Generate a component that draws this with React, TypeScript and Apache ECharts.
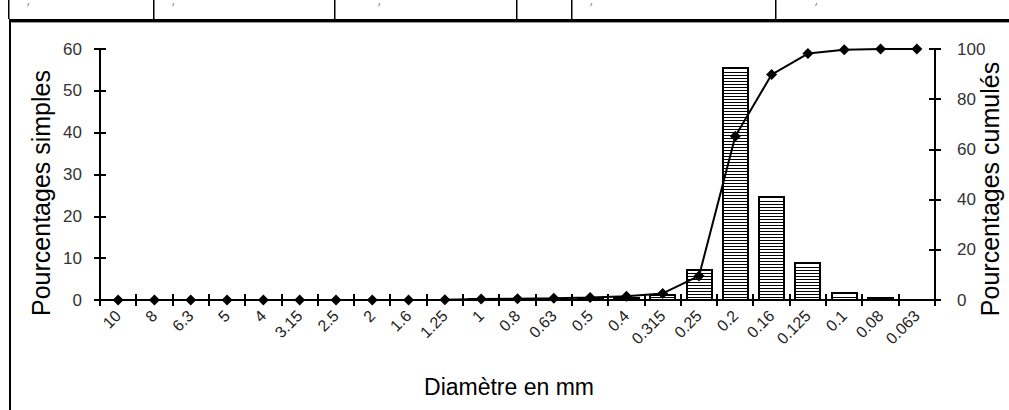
import React, { useEffect, useRef } from "react";
import * as echarts from "echarts";

const diameters = ["10", "8", "6.3", "5", "4", "3.15", "2.5", "2", "1.6", "1.25", "1", "0.8", "0.63", "0.5", "0.4", "0.315", "0.25", "0.2", "0.16", "0.125", "0.1", "0.08", "0.063"];
const simples = [0, 0, 0, 0, 0, 0, 0, 0, 0.05, 0.1, 0.2, 0.1, 0.2, 0.3, 0.5, 1.1, 7.2, 55.5, 24.7, 8.8, 1.6, 0.4, 0.1];
const cumules = [0, 0, 0, 0, 0, 0, 0, 0, 0, 0.1, 0.4, 0.5, 0.7, 1.0, 1.5, 2.6, 9.6, 65.2, 89.8, 98.2, 99.7, 100, 100];
const leftTicks = { min: 0, max: 60, interval: 10 };
const rightTicks = { min: 0, max: 100, interval: 20 };
const tableCols = [8, 153, 334, 516, 571, 775];
const commaX = [29, 174, 380, 592, 817];

const FONT = "'Liberation Sans', Arial, sans-serif";

export default function App() {
  const ref = useRef<HTMLDivElement>(null);
  useEffect(() => {
    if (!ref.current) return;
    const chart = echarts.init(ref.current, null, { renderer: "svg" });
    const axisLine = { show: true, onZero: false, lineStyle: { color: "#000", width: 2 } };
    const tickStyle = { color: "#000", width: 2 };
    const graphics: any[] = [];
    const TOP = 19;
    graphics.push({ type: "rect", shape: { x: 9, y: TOP, width: 1000, height: 3 }, style: { fill: "#000" }, silent: true });
    graphics.push({ type: "rect", shape: { x: 9, y: TOP + 3, width: 1000, height: 1 }, style: { fill: "#999" }, silent: true });
    graphics.push({ type: "rect", shape: { x: 9, y: TOP, width: 2, height: 410 - TOP }, style: { fill: "#000" }, silent: true });
    tableCols.forEach((x) => {
      graphics.push({ type: "rect", shape: { x, y: 0, width: 1.5, height: TOP }, style: { fill: "#000" }, silent: true });
    });
    commaX.forEach((x) => {
      graphics.push({ type: "line", shape: { x1: x, y1: 3, x2: x - 1.5, y2: 6 }, style: { stroke: "#999", lineWidth: 1.2 }, silent: true });
    });
    graphics.push({
      type: "text", x: 41, y: 193, rotation: Math.PI / 2,
      style: { text: "Pourcentages simples", font: `25px ${FONT}`, fill: "#000", align: "center", verticalAlign: "middle" },
    });
    graphics.push({
      type: "text", x: 990, y: 189, rotation: Math.PI / 2,
      style: { text: "Pourcentages cumulés", font: `25px ${FONT}`, fill: "#000", align: "center", verticalAlign: "middle" },
    });
    graphics.push({
      type: "text", x: 509, y: 387,
      style: { text: "Diamètre en mm", font: `23px ${FONT}`, fill: "#000", align: "center", verticalAlign: "middle" },
    });

    const gridRect = { left: 100, right: 74, top: 49, bottom: 110, containLabel: false };

    chart.setOption({
      animation: false,
      backgroundColor: "#fff",
      grid: [gridRect, { ...gridRect }],
      xAxis: [
        {
          gridIndex: 0, type: "category", data: diameters, position: "bottom", boundaryGap: true,
          axisLine,
          axisTick: { show: false },
          axisLabel: { interval: 0, rotate: 45, margin: 13, fontSize: 16, fontFamily: FONT, color: "#222" },
        },
        {
          gridIndex: 1, type: "value", position: "bottom", min: 0, max: diameters.length, interval: 1,
          axisLine: { show: false, onZero: false }, splitLine: { show: false },
          axisTick: { show: false },
          axisLabel: { show: false },
        },
      ],
      yAxis: [
        {
          gridIndex: 0, type: "value", position: "left", ...leftTicks,
          axisLine, splitLine: { show: false },
          axisTick: { show: false },
          axisLabel: { margin: 18, fontSize: 17, fontFamily: FONT, color: "#333" },
        },
        {
          gridIndex: 0, type: "value", position: "right", ...rightTicks,
          axisLine, splitLine: { show: false },
          axisTick: { show: false },
          axisLabel: { margin: 22, fontSize: 17, fontFamily: FONT, color: "#333" },
        },
        {
          gridIndex: 1, type: "value", position: "left", ...leftTicks, offset: -6,
          axisLine: { show: false, onZero: false }, splitLine: { show: false },
          axisTick: { show: true, inside: false, length: 12, lineStyle: tickStyle },
          axisLabel: { show: false },
        },
        {
          gridIndex: 1, type: "value", position: "right", ...rightTicks, offset: -6,
          axisLine: { show: false, onZero: false }, splitLine: { show: false },
          axisTick: { show: true, inside: false, length: 12, lineStyle: tickStyle },
          axisLabel: { show: false },
        },
      ],
      series: [
        {
          type: "custom", xAxisIndex: 0, yAxisIndex: 0, z: 2,
          data: simples.map((v, i) => [i, v]),
          encode: { x: 0, y: 1 },
          renderItem: (params: any, api: any) => {
            const i = api.value(0);
            const v = api.value(1);
            const top = api.coord([i, v]);
            const base = api.coord([i, 0]);
            const w = Math.round(api.size([1, 0])[0] * 0.69);
            const x = Math.round(top[0] - w / 2);
            const y0 = Math.round(base[1]);
            const y1 = Math.round(top[1]);
            const children: any[] = [];
            children.push({ type: "rect", shape: { x, y: y1, width: w, height: y0 - y1 }, style: { fill: "#fff", stroke: "#000", lineWidth: 2 } });
            for (let y = y0 - 3; y > y1 + 1; y -= 3) {
              children.push({ type: "line", shape: { x1: x, y1: y + 0.5, x2: x + w, y2: y + 0.5 }, style: { stroke: "#000", lineWidth: 1 } });
            }
            return { type: "group", children };
          },
        },
        {
          type: "line", xAxisIndex: 0, yAxisIndex: 1, z: 5,
          data: cumules,
          symbol: "diamond", symbolSize: 11,
          lineStyle: { color: "#000", width: 2 },
          itemStyle: { color: "#000" },
        },
      ],
      graphic: graphics,
    });

    // crossing x-axis ticks at category boundaries, placed through the axis scale
    const centers = diameters.map((d) => Number(chart.convertToPixel({ xAxisIndex: 0 }, d)));
    const y0 = Number(chart.convertToPixel({ yAxisIndex: 0 }, 0));
    const step = centers.length > 1 ? centers[1] - centers[0] : 0;
    const bounds = centers.map((c) => c - step / 2).concat([centers[centers.length - 1] + step / 2]);
    const tickEls = bounds.map((b) => ({
      type: "rect",
      shape: { x: Math.round(b) - 1, y: Math.round(y0) - 6, width: 2, height: 12 },
      style: { fill: "#000" },
      z: 10,
      silent: true,
    }));
    chart.setOption({ graphic: graphics.concat(tickEls) });
    return () => chart.dispose();
  }, []);
  return <div ref={ref} style={{ position: "fixed", left: 0, top: 0, width: 1009, height: 410 }} />;
}
